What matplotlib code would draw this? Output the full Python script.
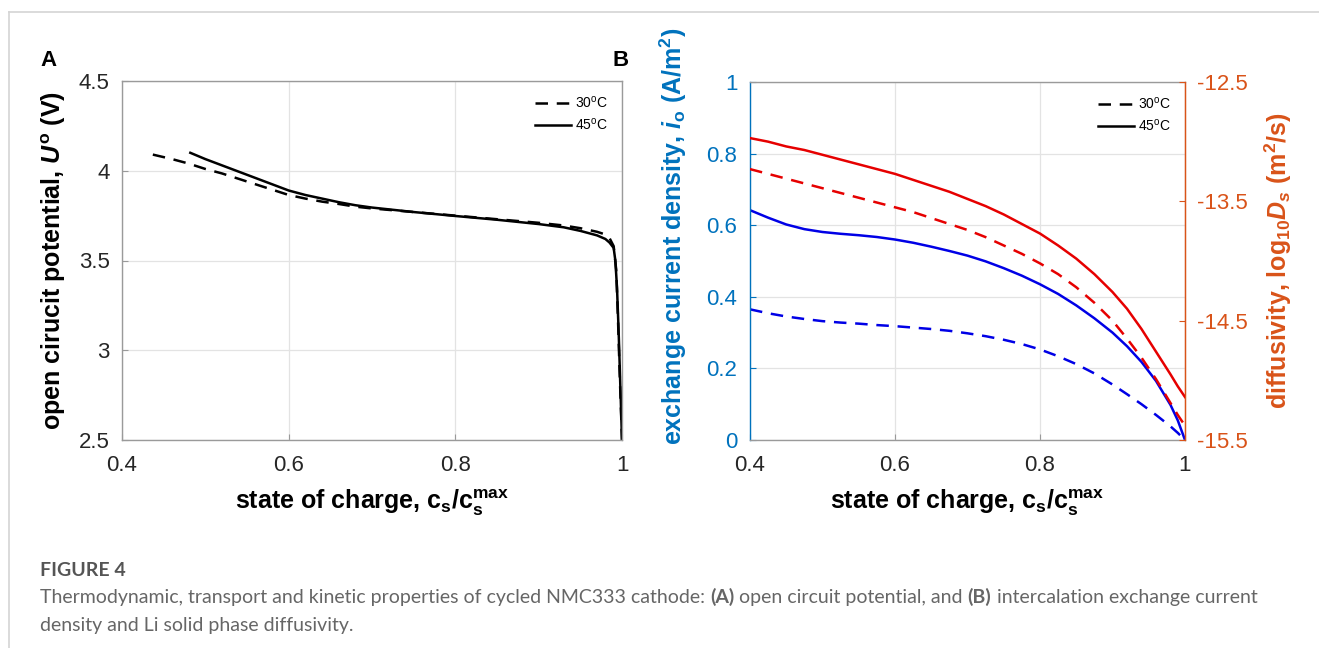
import numpy as np
import matplotlib
matplotlib.use('Agg')
import matplotlib.pyplot as plt
from matplotlib.lines import Line2D

plt.rcParams['font.family'] = ['Liberation Sans', 'DejaVu Sans']
plt.rcParams['mathtext.fontset'] = 'custom'
plt.rcParams['mathtext.rm'] = 'Liberation Sans:bold'
plt.rcParams['mathtext.it'] = 'Liberation Sans:italic:bold'
plt.rcParams['mathtext.bf'] = 'Liberation Sans:bold'
plt.rcParams['mathtext.sf'] = 'Liberation Sans'

# panel A: open circuit potential vs state of charge
soc_30 = [0.437, 0.46, 0.48, 0.50, 0.52, 0.54, 0.56, 0.58, 0.60, 0.62, 0.64, 0.66,
          0.68, 0.70, 0.75, 0.80, 0.85, 0.90, 0.93, 0.95, 0.97, 0.98, 0.985, 0.99,
          0.993, 0.995, 0.997, 1.0]
ocp_30 = [4.09, 4.065, 4.04, 4.01, 3.985, 3.955, 3.925, 3.895, 3.865, 3.845, 3.828, 3.815,
          3.80, 3.79, 3.77, 3.75, 3.73, 3.71, 3.695, 3.68, 3.66, 3.645, 3.625, 3.58,
          3.45, 3.2, 2.9, 2.5]
soc_45 = [0.482, 0.50, 0.52, 0.54, 0.56, 0.58, 0.60, 0.62, 0.64, 0.66, 0.68, 0.70,
          0.75, 0.80, 0.85, 0.90, 0.93, 0.95, 0.97, 0.98, 0.985, 0.99, 0.992, 0.994,
          0.996, 0.998, 1.0]
ocp_45 = [4.10, 4.065, 4.03, 3.995, 3.96, 3.925, 3.89, 3.865, 3.845, 3.825, 3.808, 3.795,
          3.77, 3.748, 3.727, 3.703, 3.685, 3.665, 3.64, 3.62, 3.60, 3.57, 3.50, 3.35,
          3.1, 2.8, 2.5]

# panel B: exchange current density (left) and log10 diffusivity (right)
soc_b = [0.40, 0.425, 0.45, 0.475, 0.50, 0.525, 0.55, 0.575, 0.60, 0.625, 0.65, 0.675,
         0.70, 0.725, 0.75, 0.775, 0.80, 0.825, 0.85, 0.875, 0.90, 0.92, 0.94, 0.96,
         0.98, 0.99, 1.00]
io_45 = [0.642, 0.621, 0.602, 0.589, 0.581, 0.576, 0.572, 0.567, 0.560, 0.551, 0.540, 0.528,
         0.515, 0.499, 0.480, 0.459, 0.435, 0.408, 0.376, 0.340, 0.300, 0.262, 0.218, 0.165,
         0.098, 0.055, 0.0]
io_30 = [0.365, 0.354, 0.345, 0.338, 0.332, 0.328, 0.325, 0.321, 0.318, 0.314, 0.310, 0.305,
         0.298, 0.290, 0.280, 0.268, 0.253, 0.234, 0.212, 0.186, 0.155, 0.128, 0.100, 0.070,
         0.038, 0.020, 0.0]
logD_45 = [-12.97, -13.00, -13.04, -13.07, -13.11, -13.15, -13.19, -13.23, -13.27, -13.32,
           -13.37, -13.42, -13.48, -13.54, -13.61, -13.69, -13.77, -13.87, -13.98, -14.11,
           -14.26, -14.40, -14.57, -14.76, -14.95, -15.05, -15.14]
logD_30 = [-13.23, -13.27, -13.31, -13.35, -13.39, -13.43, -13.47, -13.51, -13.55, -13.59,
           -13.64, -13.69, -13.74, -13.80, -13.87, -13.94, -14.02, -14.11, -14.22, -14.35,
           -14.50, -14.65, -14.81, -14.99, -15.19, -15.29, -15.38]

blue_ax = '#0072BD'
orange_ax = '#D95319'
spine_gray = '#9a9a9a'
dash = (5, 3.5)
tick_fs = 16
label_fs = 18

fig = plt.figure(figsize=(13.19, 6.48), dpi=100)

# light frame of the figure page
fig.add_artist(Line2D([9/1319, 1], [1-12/648, 1-12/648], color='#d4d4d4', lw=1.2))
fig.add_artist(Line2D([9/1319, 9/1319], [0, 1-12/648], color='#d4d4d4', lw=1.2))


def style_axes(ax):
    ax.grid(True, color='#e3e3e3', lw=0.9)
    ax.set_axisbelow(True)
    for s in ax.spines.values():
        s.set_color(spine_gray)
        s.set_linewidth(1.0)
    ax.tick_params(direction='in', length=4, width=0.8, color=spine_gray,
                   labelsize=tick_fs, labelcolor='#262626')
    ax.tick_params(axis='x', pad=11)
    ax.tick_params(axis='y', pad=9)


xlab = r'state of charge, c$_{\rm s}$/c$_{\rm s}^{\rm max}$'

# ---- A ----
axA = fig.add_axes([122/1319, 1-440/648, 500/1319, 359/648])
axA.plot(soc_30, ocp_30, color='black', lw=1.8, linestyle=(0, dash), label=r'30$^{\mathsf{o}}$C')
axA.plot(soc_45, ocp_45, color='black', lw=1.8, label=r'45$^{\mathsf{o}}$C')
axA.set_xlim(0.4, 1.0)
axA.set_ylim(2.5, 4.5)
axA.set_xticks([0.4, 0.6, 0.8, 1.0])
axA.set_xticklabels(['0.4', '0.6', '0.8', '1'])
axA.set_yticks([2.5, 3, 3.5, 4, 4.5])
axA.set_yticklabels(['2.5', '3', '3.5', '4', '4.5'])
style_axes(axA)
axA.set_xlabel(xlab, fontsize=label_fs, fontweight='bold', labelpad=8)
axA.set_ylabel(r'open cirucit potential, $U^{\rm o}$ (V)', fontsize=label_fs,
               fontweight='bold', labelpad=8)
axA.legend(loc='upper right', frameon=False, fontsize=10, handlelength=2.6,
           handletextpad=0.3, borderaxespad=0.6, labelspacing=0.4)
fig.text(40/1319, 1-60/648, 'A', fontsize=16, fontweight='bold', va='center')

# ---- B ----
axB = fig.add_axes([750/1319, 1-440/648, 435/1319, 358/648])
axB.plot(soc_b, io_30, color='#0000e6', lw=1.8, linestyle=(0, dash))
axB.plot(soc_b, io_45, color='#0000e6', lw=1.8)
axB.set_xlim(0.4, 1.0)
axB.set_ylim(0, 1)
axB.set_xticks([0.4, 0.6, 0.8, 1.0])
axB.set_xticklabels(['0.4', '0.6', '0.8', '1'])
axB.set_yticks([0, 0.2, 0.4, 0.6, 0.8, 1.0])
axB.set_yticklabels(['0', '0.2', '0.4', '0.6', '0.8', '1'])
style_axes(axB)
axB.tick_params(axis='y', labelcolor=blue_ax, color=blue_ax)
axB.spines['left'].set_color(blue_ax)
axB.spines['right'].set_color(orange_ax)
axB.set_xlabel(xlab, fontsize=label_fs, fontweight='bold', labelpad=8)
axB.set_ylabel(r'exchange current density, $i_{\rm o}$ (A/m$^{\rm 2}$)', fontsize=label_fs,
               fontweight='bold', color=blue_ax)
axB.yaxis.set_label_coords(-0.14, 0.57)

ax2 = axB.twinx()
ax2.plot(soc_b, logD_30, color='#e60000', lw=1.8, linestyle=(0, dash))
ax2.plot(soc_b, logD_45, color='#e60000', lw=1.8)
ax2.set_ylim(-15.5, -12.5)
ax2.set_yticks([-15.5, -14.5, -13.5, -12.5])
ax2.set_yticklabels(['-15.5', '-14.5', '-13.5', '-12.5'])
for s in ax2.spines.values():
    s.set_visible(False)
ax2.spines['right'].set_visible(True)
ax2.spines['right'].set_color(orange_ax)
ax2.tick_params(direction='in', length=4, width=0.8, color=orange_ax,
                labelsize=tick_fs, labelcolor=orange_ax, pad=9)
ax2.set_ylabel(r'diffusivity, log$_{\rm 10}$$D_s$ (m$^{\rm 2}$/s)', fontsize=label_fs,
               fontweight='bold', color=orange_ax, labelpad=10)
leg_handles = [Line2D([], [], color='black', lw=1.8, linestyle=(0, dash)),
               Line2D([], [], color='black', lw=1.8)]
axB.legend(leg_handles, [r'30$^{\mathsf{o}}$C', r'45$^{\mathsf{o}}$C'], loc='upper right',
           frameon=False, fontsize=10, handlelength=2.6, handletextpad=0.3,
           borderaxespad=0.6, labelspacing=0.4)
fig.text(612/1319, 1-60/648, 'B', fontsize=16, fontweight='bold', va='center')

# ---- caption ----
cap_font = ['Lato', 'DejaVu Sans']
cap_fs = 14
fig.text(40/1319, 1-570/648, 'FIGURE 4', fontsize=cap_fs, fontweight='bold',
         color='#555555', family=cap_font, va='center')

pieces = [('Thermodynamic, transport and kinetic properties of cycled NMC333 cathode: ', 'normal'),
          ('(A)', 'bold'),
          (' open circuit potential, and ', 'normal'),
          ('(B)', 'bold'),
          (' intercalation exchange current', 'normal')]
fig.canvas.draw()
renderer = fig.canvas.get_renderer()
x = 40
for txt, w in pieces:
    t = fig.text(x/1319, 1-597/648, txt, fontsize=cap_fs, fontweight=w, color='#666666',
                 family=cap_font, va='center')
    bb = t.get_window_extent(renderer=renderer)
    x = bb.x1
fig.text(40/1319, 1-625/648, 'density and Li solid phase diffusivity.', fontsize=cap_fs,
         color='#666666', family=cap_font, va='center')

fig.savefig('out.png', dpi=100)
